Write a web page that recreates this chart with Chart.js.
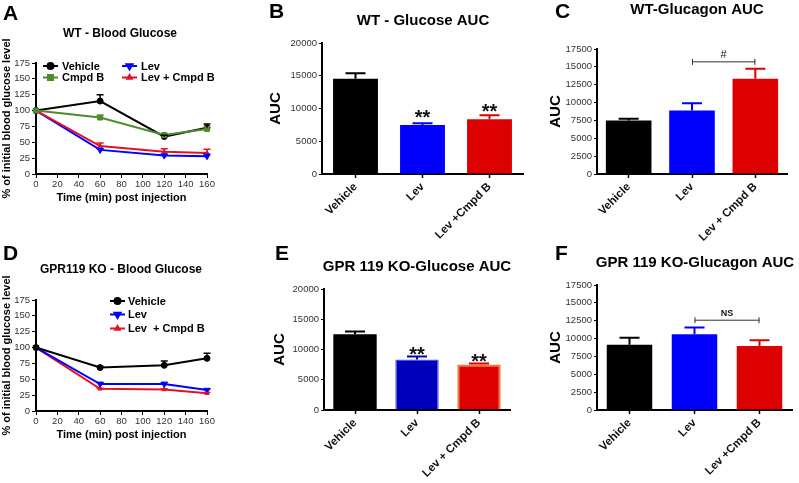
<!DOCTYPE html>
<html><head><meta charset="utf-8">
<script src="https://cdn.jsdelivr.net/npm/chart.js"></script>
<style>
html,body{margin:0;padding:0;background:#fff;}
body{width:799px;height:483px;overflow:hidden;position:relative;}
canvas{position:absolute;}
</style>
</head><body>
<canvas id="cA" width="265" height="240" style="left:0px;top:0px"></canvas>
<canvas id="cD" width="265" height="243" style="left:0px;top:240px"></canvas>
<canvas id="cB" width="270" height="255" style="left:260px;top:0px"></canvas>
<canvas id="cE" width="270" height="243" style="left:260px;top:240px"></canvas>
<canvas id="cC" width="279" height="255" style="left:520px;top:0px"></canvas>
<canvas id="cF" width="279" height="243" style="left:520px;top:240px"></canvas>
<script>
// ---------- data ----------
const timeMin = [0, 60, 120, 160];
const timeTicks = [0, 20, 40, 60, 80, 100, 120, 140, 160];
const pctTicks = [0, 25, 50, 75, 100, 125, 150, 175];

const wtVehicle = [100, 115, 59, 73];
const wtVehicleSem = [0, 10, 2, 6];
const wtCmpdB = [100, 89, 61.5, 71];
const wtCmpdBSem = [0, 3.5, 1.5, 2];
const wtLev = [100, 38, 29, 28];
const wtLevSem = [0, 2, 2, 3];
const wtLevCmpdB = [100, 44, 35, 33];
const wtLevCmpdBSem = [0, 5, 5, 6];

const koVehicle = [100, 68.5, 72, 83];
const koVehicleSem = [0, 1.5, 7, 8];
const koLev = [100, 42.5, 42.5, 33];
const koLevSem = [0, 2.5, 2.5, 2];
const koLevCmpdB = [100, 35, 34, 28];
const koLevCmpdBSem = [0, 1, 1, 1];

const catsB = ['Vehicle', 'Lev', 'Lev +Cmpd B'];
const catsC = ['Vehicle', 'Lev', 'Lev + Cmpd B'];
const catsE = ['Vehicle', 'Lev', 'Lev + Cmpd B'];
const catsF = ['Vehicle', 'Lev', 'Lev +Cmpd B'];
const glucoseAucTicks = [0, 5000, 10000, 15000, 20000];
const glucagonAucTicks = [0, 2500, 5000, 7500, 10000, 12500, 15000, 17500];

const wtGlucoseAuc = [14550, 7500, 8370];
const wtGlucoseAucSem = [850, 250, 600];
const wtGlucagonAuc = [7500, 8900, 13350];
const wtGlucagonAucSem = [230, 1000, 1400];
const koGlucoseAuc = [12530, 8340, 7520];
const koGlucoseAucSem = [450, 500, 170];
const koGlucagonAuc = [9150, 10600, 8950];
const koGlucagonAucSem = [950, 950, 830];

// ---------- styling ----------
const FONT = '"Liberation Sans", Arial, sans-serif';
Chart.defaults.font.family = FONT;
Chart.defaults.color = '#222';
const COL = { black: '#000000', green: '#4d8b2f', blue: '#0000ff', red: '#e3102a', barRed: '#dd0000' };

const errorBarPlugin = {
  id: 'errorBars',
  afterDatasetsDraw(chart) {
    const ctx = chart.ctx;
    chart.data.datasets.forEach((ds, i) => {
      if (!ds.errors) return;
      const meta = chart.getDatasetMeta(i);
      const ys = chart.scales[meta.yAxisID];
      meta.data.forEach((el, j) => {
        const e = ds.errors[j];
        if (!e) return;
        const raw = ds.data[j];
        const v = (typeof raw === 'object') ? raw.y : raw;
        const y1 = ys.getPixelForValue(v + e);
        const col = Array.isArray(ds.errorColor) ? ds.errorColor[j] : ds.errorColor;
        const cap = ds.capWidth || 8;
        ctx.save();
        ctx.strokeStyle = col;
        ctx.lineWidth = ds.errorWidth || 1.5;
        ctx.beginPath();
        ctx.moveTo(el.x, el.y);
        ctx.lineTo(el.x, y1);
        ctx.moveTo(el.x - cap / 2, y1);
        ctx.lineTo(el.x + cap / 2, y1);
        ctx.stroke();
        ctx.restore();
      });
    });
  }
};

const decorPlugin = {
  id: 'panelDecor',
  afterDraw(chart, args, o) {
    const ctx = chart.ctx;
    ctx.save();
    ctx.fillStyle = '#000';
    if (o.letter) {
      ctx.font = 'bold 21px ' + FONT;
      ctx.textAlign = 'left'; ctx.textBaseline = 'alphabetic';
      ctx.fillText(o.letter, o.letterX, o.letterY);
    }
    if (o.title) {
      ctx.font = 'bold ' + o.titleSize + 'px ' + FONT;
      ctx.textAlign = 'center'; ctx.textBaseline = 'middle';
      ctx.fillText(o.title, o.titleX, o.titleY);
    }
    (o.legend || []).forEach(it => {
      ctx.strokeStyle = it.color; ctx.lineWidth = 2;
      ctx.beginPath(); ctx.moveTo(it.x, it.y); ctx.lineTo(it.x + 15, it.y); ctx.stroke();
      ctx.fillStyle = it.color; ctx.strokeStyle = it.color;
      Chart.helpers.drawPoint(ctx, { pointStyle: it.style, radius: it.radius, rotation: it.rotation || 0, borderWidth: 1 }, it.x + 7.5, it.y);
      ctx.fillStyle = '#000';
      ctx.font = 'bold 11px ' + FONT;
      ctx.textAlign = 'left'; ctx.textBaseline = 'middle';
      ctx.fillText(it.text, it.textX, it.y + 0.5);
    });
    const ds = chart.data.datasets[0];
    const meta = chart.getDatasetMeta(0);
    const ys = chart.scales.y;
    (o.stars || []).forEach(s => {
      const top = ys.getPixelForValue(ds.data[s.index] + (ds.errors ? ds.errors[s.index] : 0));
      const fs = 20;
      ctx.font = 'bold ' + fs + 'px ' + FONT;
      ctx.fillStyle = '#111';
      ctx.textAlign = 'center'; ctx.textBaseline = 'alphabetic';
      const centerY = top - s.gap;
      ctx.fillText(s.text, meta.data[s.index].x, centerY + 0.56 * fs);
    });
    if (o.bracket) {
      const b = o.bracket;
      const x0 = meta.data[b.from].x, x1 = meta.data[b.to].x;
      const y = ys.getPixelForValue(b.value);
      ctx.strokeStyle = '#333'; ctx.lineWidth = 1;
      ctx.beginPath();
      ctx.moveTo(x0, y); ctx.lineTo(x1, y);
      ctx.moveTo(x0 + 0.5, y - 3); ctx.lineTo(x0 + 0.5, y + 3);
      ctx.moveTo(x1 - 0.5, y - 3); ctx.lineTo(x1 - 0.5, y + 3);
      ctx.stroke();
      ctx.fillStyle = '#111';
      ctx.font = b.font;
      ctx.textAlign = 'center'; ctx.textBaseline = 'bottom';
      ctx.fillText(b.text, (x0 + x1) / 2, y - b.gap);
    }
    ctx.restore();
  }
};

function tickSetter(values) {
  return function (scale) { scale.ticks = values.map(v => ({ value: v })); };
}

function pts(xs, ys) { return xs.map((x, i) => ({ x: x, y: ys[i] })); }

function lineDs(label, xs, ys, sem, color, style, radius, rotation) {
  return {
    label, data: pts(xs, ys), errors: sem,
    borderColor: color, backgroundColor: color, errorColor: color,
    borderWidth: 2, pointStyle: style, pointRadius: radius, pointRotation: rotation || 0,
    pointBorderWidth: 1, tension: 0, clip: false, capWidth: 7, errorWidth: 1.5
  };
}

function lineChart(id, datasets, lay, decor) {
  return new Chart(document.getElementById(id), {
    type: 'line',
    data: { datasets },
    plugins: [errorBarPlugin, decorPlugin],
    options: {
      responsive: false, animation: false, devicePixelRatio: 1,
      layout: { padding: { left: 0, top: lay.top, right: lay.right, bottom: lay.bottom } },
      plugins: { legend: { display: false }, tooltip: { enabled: false }, panelDecor: decor },
      scales: {
        x: {
          type: 'linear', min: 0, max: 160,
          afterBuildTicks: tickSetter(timeTicks),
          afterFit: s => { s.height = lay.xH; },
          border: { display: true, color: '#000', width: 2 },
          grid: { drawOnChartArea: false, drawTicks: true, tickLength: 4, tickColor: '#000', tickWidth: 1 },
          ticks: { font: { size: 9.5 }, color: '#333', padding: 1, maxRotation: 0, autoSkip: false, callback: v => String(v) },
          title: { display: true, text: 'Time (min) post injection', font: { size: 11, weight: 'bold' }, color: '#000', padding: { top: 0, bottom: 0 } }
        },
        y: {
          type: 'linear', min: 0, max: 175,
          afterBuildTicks: tickSetter(pctTicks),
          afterFit: s => { s.width = lay.yW; },
          border: { display: true, color: '#000', width: 2 },
          grid: { drawOnChartArea: false, drawTicks: true, tickLength: 4, tickColor: '#000', tickWidth: 1 },
          ticks: { font: { size: 9.5 }, color: '#333', padding: 2, autoSkip: false, callback: v => String(v) },
          title: { display: true, text: '% of initial blood glucose level', font: { size: 11, weight: 'bold' }, color: '#000', padding: { top: 0, bottom: 0 } }
        }
      }
    }
  });
}

function barChart(id, cats, vals, sem, colors, borders, borderW, ticks, max, lay, decor) {
  return new Chart(document.getElementById(id), {
    type: 'bar',
    data: {
      labels: cats,
      datasets: [{
        data: vals, errors: sem, backgroundColor: colors, borderColor: borders, borderWidth: borderW,
        errorColor: colors, capWidth: 20, errorWidth: 2,
        barPercentage: lay.barPct, categoryPercentage: 1
      }]
    },
    plugins: [errorBarPlugin, decorPlugin],
    options: {
      responsive: false, animation: false, devicePixelRatio: 1,
      layout: { padding: { left: 0, top: lay.top, right: lay.right, bottom: lay.bottom } },
      plugins: { legend: { display: false }, tooltip: { enabled: false }, panelDecor: decor },
      scales: {
        x: {
          afterFit: s => { s.height = lay.xH; },
          border: { display: true, color: '#000', width: 2 },
          grid: { offset: false, drawOnChartArea: false, drawTicks: true, tickLength: 4, tickColor: '#000', tickWidth: 1.5 },
          ticks: { font: { size: 11.5, weight: 'bold' }, color: '#111', padding: 2, minRotation: 45, maxRotation: 45, autoSkip: false }
        },
        y: {
          min: 0, max: max,
          afterBuildTicks: tickSetter(ticks),
          afterFit: s => { s.width = lay.yW; },
          border: { display: true, color: '#000', width: 2 },
          grid: { drawOnChartArea: false, drawTicks: true, tickLength: 3, tickColor: '#000', tickWidth: 1 },
          ticks: { font: { size: 9.5 }, color: '#333', padding: 2, autoSkip: false, callback: v => String(v) },
          title: { display: true, text: 'AUC', font: { size: 15, weight: 'bold' }, color: '#000', padding: { top: lay.titlePad, bottom: 0 } }
        }
      }
    }
  });
}

// ---------- panel A ----------
lineChart('cA', [
  lineDs('Cmpd B', timeMin, wtCmpdB, wtCmpdBSem, COL.green, 'rect', 3.5),
  lineDs('Vehicle', timeMin, wtVehicle, wtVehicleSem, COL.black, 'circle', 3),
  lineDs('Lev + Cmpd B', timeMin, wtLevCmpdB, wtLevCmpdBSem, COL.red, 'triangle', 2.5),
  lineDs('Lev', timeMin, wtLev, wtLevSem, COL.blue, 'triangle', 3.5, 180)
], { top: 63, right: 58, bottom: 35, xH: 31, yW: 36 }, {
  letter: 'A', letterX: 3, letterY: 20,
  title: 'WT - Blood Glucose', titleSize: 12, titleX: 120, titleY: 34,
  legend: [
    { text: 'Vehicle', color: COL.black, style: 'circle', radius: 3, x: 43, y: 66, textX: 62 },
    { text: 'Cmpd B', color: COL.green, style: 'rect', radius: 3.5, x: 43, y: 77.5, textX: 62 },
    { text: 'Lev', color: COL.blue, style: 'triangle', radius: 3.5, rotation: 180, x: 122, y: 66, textX: 141 },
    { text: 'Lev + Cmpd B', color: COL.red, style: 'triangle', radius: 2.5, x: 122, y: 77.5, textX: 141 }
  ]
});

// ---------- panel D ----------
lineChart('cD', [
  lineDs('Vehicle', timeMin, koVehicle, koVehicleSem, COL.black, 'circle', 3),
  lineDs('Lev', timeMin, koLev, koLevSem, COL.blue, 'triangle', 3.5, 180),
  lineDs('Lev  + Cmpd B', timeMin, koLevCmpdB, koLevCmpdBSem, COL.red, 'triangle', 2.5)
], { top: 60, right: 58, bottom: 41, xH: 31, yW: 36 }, {
  letter: 'D', letterX: 3, letterY: 20,
  title: 'GPR119 KO - Blood Glucose', titleSize: 12, titleX: 121, titleY: 30,
  legend: [
    { text: 'Vehicle', color: COL.black, style: 'circle', radius: 3, x: 110, y: 61, textX: 128 },
    { text: 'Lev', color: COL.blue, style: 'triangle', radius: 3.5, rotation: 180, x: 110, y: 74.5, textX: 128 },
    { text: 'Lev  + Cmpd B', color: COL.red, style: 'triangle', radius: 2.5, x: 110, y: 88.5, textX: 128 }
  ]
});

// ---------- panel B ----------
barChart('cB', catsB, wtGlucoseAuc, wtGlucoseAucSem,
  [COL.black, COL.blue, COL.barRed], [COL.black, COL.blue, COL.barRed], 0,
  glucoseAucTicks, 20000,
  { top: 43, right: 7, bottom: 11, xH: 70, yW: 62, titlePad: 6.6, barPct: 0.67 }, {
  letter: 'B', letterX: 9, letterY: 18,
  title: 'WT - Glucose AUC', titleSize: 15, titleX: 163, titleY: 21,
  stars: [{ index: 1, text: '**', gap: 10 }, { index: 2, text: '**', gap: 8 }]
});

// ---------- panel C ----------
barChart('cC', catsC, wtGlucagonAuc, wtGlucagonAucSem,
  [COL.black, COL.blue, COL.barRed], [COL.black, COL.blue, COL.barRed], 0,
  glucagonAucTicks, 17500,
  { top: 49, right: 12, bottom: 11, xH: 70, yW: 77, titlePad: 26.6, barPct: 0.72 }, {
  letter: 'C', letterX: 35, letterY: 18,
  title: 'WT-Glucagon AUC', titleSize: 15, titleX: 177, titleY: 10,
  bracket: { from: 1, to: 2, value: 15700, text: '#', font: '11px ' + FONT, gap: 1 }
});

// ---------- panel E ----------
barChart('cE', catsE, koGlucoseAuc, koGlucoseAucSem,
  [COL.black, '#0000bb', COL.barRed], [COL.black, '#4a4aff', '#f07a30'], [0, 1.5, 2],
  glucoseAucTicks, 20000,
  { top: 49, right: 20, bottom: 1, xH: 72, yW: 64, titlePad: 10.6, barPct: 0.7 }, {
  letter: 'E', letterX: 15, letterY: 20,
  title: 'GPR 119 KO-Glucose AUC', titleSize: 15, titleX: 157, titleY: 27,
  stars: [{ index: 1, text: '**', gap: 7 }, { index: 2, text: '**', gap: 7 }]
});

// ---------- panel F ----------
barChart('cF', catsF, koGlucagonAuc, koGlucagonAucSem,
  [COL.black, COL.blue, COL.barRed], [COL.black, COL.blue, COL.barRed], 0,
  glucagonAucTicks, 17500,
  { top: 45, right: 7, bottom: 1, xH: 72, yW: 77, titlePad: 26.6, barPct: 0.7 }, {
  letter: 'F', letterX: 35, letterY: 20,
  title: 'GPR 119 KO-Glucagon AUC', titleSize: 15, titleX: 175, titleY: 22.5,
  bracket: { from: 1, to: 2, value: 12570, text: 'NS', font: 'bold 9px ' + FONT, gap: 2 }
});
</script>
</body></html>
